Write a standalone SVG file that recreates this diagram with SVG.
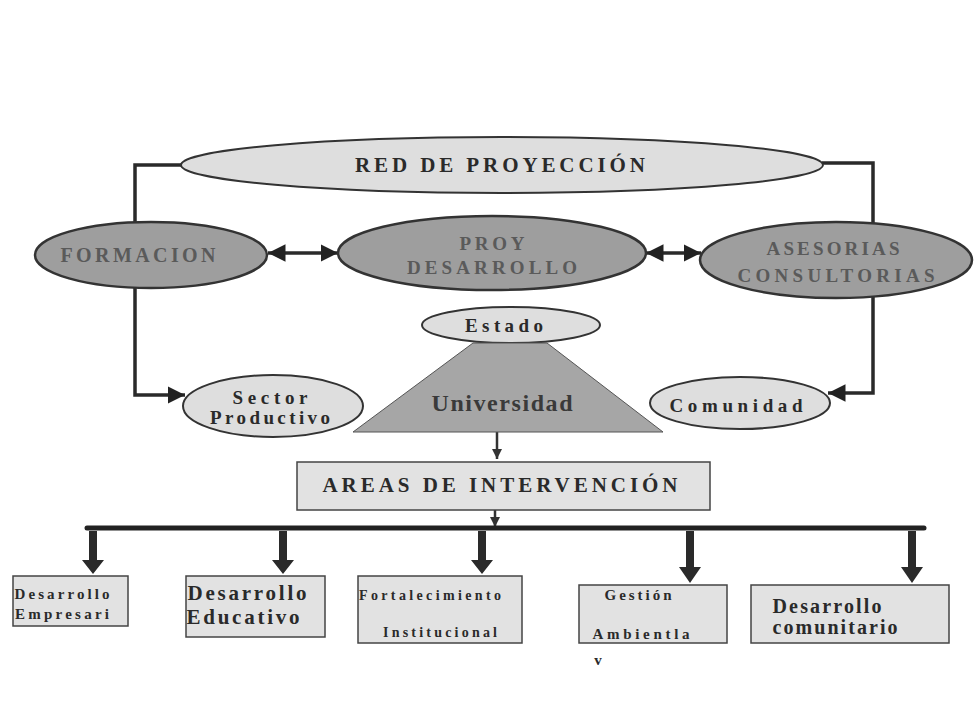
<svg xmlns="http://www.w3.org/2000/svg" width="977" height="715" viewBox="0 0 977 715">
<defs>
<marker id="ah" viewBox="0 0 10 10" refX="10" refY="5" markerWidth="5" markerHeight="5" orient="auto-start-reverse" markerUnits="strokeWidth">
<path d="M0,0 L10,5 L0,10 z" fill="#222"/>
</marker>
<marker id="sm" viewBox="0 0 10 10" refX="10" refY="5" markerWidth="4" markerHeight="4" orient="auto" markerUnits="strokeWidth">
<path d="M0,0 L10,5 L0,10 z" fill="#333"/>
</marker>
</defs>
<style>
text{font-family:"Liberation Serif","Times New Roman",serif;font-weight:bold;text-anchor:middle}
.light{fill:#dedede;stroke:#333;stroke-width:2}
.dark{fill:#9e9e9e;stroke:#333;stroke-width:2.5}
.box{fill:#e2e2e2;stroke:#444;stroke-width:1.5}
.conn{fill:none;stroke:#2a2a2a;stroke-width:3.5}
.dt{fill:#5a5a5a}
.t{fill:#2a2a2a}
</style>
<rect width="977" height="715" fill="#fff"/>
<g id="connectors">
<path class="conn" d="M182,165 H135 V223"/>
<path class="conn" d="M135,288 V395 H185" marker-end="url(#ah)"/>
<path class="conn" d="M822,163 H873 V223"/>
<path class="conn" d="M873,297 V393 H828" marker-end="url(#ah)"/>
<path class="conn" d="M268,253 H338" marker-start="url(#ah)" marker-end="url(#ah)"/>
<path class="conn" d="M646,253 H701" marker-start="url(#ah)" marker-end="url(#ah)"/>
<path d="M497,432 V459" stroke="#333" stroke-width="2.5" marker-end="url(#sm)"/>
<path d="M495,505 V527" stroke="#333" stroke-width="2.5" marker-end="url(#sm)"/>
<path d="M87,528 H924" stroke="#222" stroke-width="5" stroke-linecap="round"/>
<g fill="#2a2a2a">
<polygon points="89,531 97,531 97,560 104,560 93,574 82,560 89,560"/>
<polygon points="279,531 287,531 287,560 294,560 283,574 272,560 279,560"/>
<polygon points="478,531 486,531 486,560 493,560 482,574 471,560 478,560"/>
<polygon points="686,531 694,531 694,567 701,567 690,583 679,567 686,567"/>
<polygon points="908,531 916,531 916,567 923,567 912,583 901,567 908,567"/>
</g>
</g>
<g id="red">
<ellipse class="light" cx="502" cy="165" rx="321" ry="28"/>
<text class="t" x="500" y="172" font-size="21" textLength="290" lengthAdjust="spacing">RED DE PROYECCIÓN</text>
</g>
<g id="formacion">
<ellipse class="dark" cx="151" cy="255" rx="116" ry="33"/>
<text class="dt" x="138" y="262" font-size="20" textLength="155" lengthAdjust="spacing">FORMACION</text>
</g>
<g id="proy">
<ellipse class="dark" cx="492" cy="253" rx="154" ry="37"/>
<text class="dt" x="492" y="250" font-size="19" textLength="65" lengthAdjust="spacing">PROY</text>
<text class="dt" x="492" y="274" font-size="19" textLength="170" lengthAdjust="spacing">DESARROLLO</text>
</g>
<g id="asesorias">
<ellipse class="dark" cx="836" cy="260" rx="136" ry="38"/>
<text class="dt" x="833" y="255" font-size="19" textLength="133" lengthAdjust="spacing">ASESORIAS</text>
<text class="dt" x="836" y="282" font-size="19" textLength="197" lengthAdjust="spacing">CONSULTORIAS</text>
</g>
<g id="estado">
<ellipse class="light" cx="511" cy="325" rx="89" ry="18" stroke-width="1.5"/>
<text class="t" x="504" y="332" font-size="19" textLength="78" lengthAdjust="spacing">Estado</text>
</g>
<g id="universidad">
<polygon points="473,343 547,343 663,432 353,432" fill="#a6a6a6" stroke="#555" stroke-width="1"/>
<text fill="#3a3a3a" x="502" y="411" font-size="24" textLength="141" lengthAdjust="spacing">Universidad</text>
</g>
<g id="sector">
<ellipse class="light" cx="273" cy="406" rx="90" ry="31" stroke-width="1.5"/>
<text class="t" x="270" y="404" font-size="19" textLength="75" lengthAdjust="spacing">Sector</text>
<text class="t" x="270" y="424" font-size="19" textLength="120" lengthAdjust="spacing">Productivo</text>
</g>
<g id="comunidad">
<ellipse class="light" cx="740" cy="403" rx="90" ry="26" stroke-width="1.5"/>
<text class="t" x="736" y="412" font-size="19" textLength="133" lengthAdjust="spacing">Comunidad</text>
</g>
<g id="areas">
<rect class="box" x="297" y="462" width="413" height="48"/>
<text class="t" x="500" y="492" font-size="21" textLength="355" lengthAdjust="spacing">AREAS DE INTERVENCIÓN</text>
</g>
<g id="empresarial">
<rect class="box" x="13" y="576" width="115" height="50"/>
<text class="t" x="62" y="599" font-size="15" textLength="95" lengthAdjust="spacing">Desarrollo</text>
<text class="t" x="62" y="619" font-size="15" textLength="94" lengthAdjust="spacing">Empresari</text>
</g>
<g id="educativo">
<rect class="box" x="186" y="576" width="139" height="61"/>
<text class="t" x="247" y="600" font-size="21" textLength="119" lengthAdjust="spacing">Desarrollo</text>
<text class="t" x="243" y="624" font-size="21" textLength="113" lengthAdjust="spacing">Educativo</text>
</g>
<g id="fortalecimiento">
<rect class="box" x="358" y="576" width="164" height="67"/>
<text class="t" x="430" y="600" font-size="14" textLength="142" lengthAdjust="spacing">Fortalecimiento</text>
<text class="t" x="440" y="637" font-size="14" textLength="114" lengthAdjust="spacing">Institucional</text>
</g>
<g id="gestion">
<rect class="box" x="579" y="585" width="148" height="58"/>
<text class="t" x="638" y="600" font-size="15" textLength="67" lengthAdjust="spacing">Gestión</text>
<text class="t" x="641" y="639" font-size="15" textLength="97" lengthAdjust="spacing">Ambientla</text>
<text class="t" x="598" y="665" font-size="15">v</text>
</g>
<g id="comunitario">
<rect class="box" x="751" y="585" width="198" height="58"/>
<text class="t" x="827" y="613" font-size="20" textLength="109" lengthAdjust="spacing">Desarrollo</text>
<text class="t" x="835" y="634" font-size="20" textLength="125" lengthAdjust="spacing">comunitario</text>
</g>
</svg>
